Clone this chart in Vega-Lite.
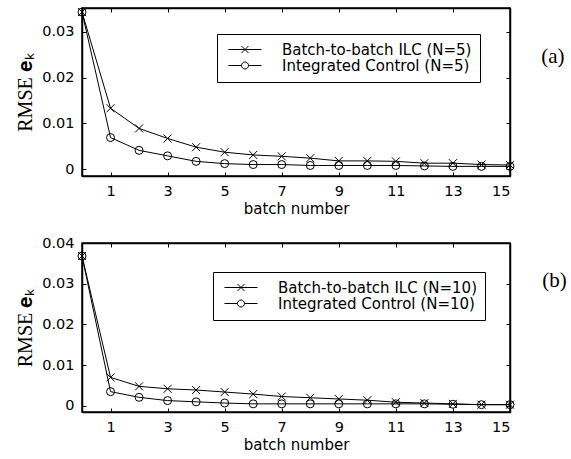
{
  "$schema": "https://vega.github.io/schema/vega-lite/v6.json",
  "background": "white",
  "padding": {"left": 14, "top": 5, "right": 0, "bottom": 5},
  "spacing": 16,
  "config": {
    "view": {"stroke": "black", "strokeWidth": 1.5},
    "axis": {"domainColor": "black", "domainWidth": 1.5, "tickColor": "black", "tickSize": -4, "tickWidth": 1, "labelColor": "black", "labelFont": "DejaVu Sans", "labelFontSize": 14.5, "grid": false, "titleColor": "black", "titleFontWeight": "normal", "labelPadding": 12},
    "legend": {"orient": "none", "strokeColor": "black", "fillColor": "white", "padding": 8, "symbolSize": 64, "symbolStrokeWidth": 1, "symbolStrokeColor": "black", "symbolFillColor": "transparent", "symbolOpacity": 1, "labelFont": "DejaVu Sans", "labelFontSize": 15, "labelColor": "black", "labelOffset": 42, "labelLimit": 400, "rowPadding": 0, "title": null}
  },
  "datasets": {
    "a": [
      {"batch": 0, "series": "Batch-to-batch ILC (N=5)", "rmse": 0.0343},
      {"batch": 1, "series": "Batch-to-batch ILC (N=5)", "rmse": 0.0133},
      {"batch": 2, "series": "Batch-to-batch ILC (N=5)", "rmse": 0.0089},
      {"batch": 3, "series": "Batch-to-batch ILC (N=5)", "rmse": 0.0067},
      {"batch": 4, "series": "Batch-to-batch ILC (N=5)", "rmse": 0.0048},
      {"batch": 5, "series": "Batch-to-batch ILC (N=5)", "rmse": 0.0037},
      {"batch": 6, "series": "Batch-to-batch ILC (N=5)", "rmse": 0.0031},
      {"batch": 7, "series": "Batch-to-batch ILC (N=5)", "rmse": 0.0028},
      {"batch": 8, "series": "Batch-to-batch ILC (N=5)", "rmse": 0.0024},
      {"batch": 9, "series": "Batch-to-batch ILC (N=5)", "rmse": 0.0018},
      {"batch": 10, "series": "Batch-to-batch ILC (N=5)", "rmse": 0.0018},
      {"batch": 11, "series": "Batch-to-batch ILC (N=5)", "rmse": 0.0017},
      {"batch": 12, "series": "Batch-to-batch ILC (N=5)", "rmse": 0.0013},
      {"batch": 13, "series": "Batch-to-batch ILC (N=5)", "rmse": 0.0013},
      {"batch": 14, "series": "Batch-to-batch ILC (N=5)", "rmse": 0.0010},
      {"batch": 15, "series": "Batch-to-batch ILC (N=5)", "rmse": 0.0009},
      {"batch": 0, "series": "Integrated Control (N=5)", "rmse": 0.0343},
      {"batch": 1, "series": "Integrated Control (N=5)", "rmse": 0.0069},
      {"batch": 2, "series": "Integrated Control (N=5)", "rmse": 0.0041},
      {"batch": 3, "series": "Integrated Control (N=5)", "rmse": 0.0029},
      {"batch": 4, "series": "Integrated Control (N=5)", "rmse": 0.0017},
      {"batch": 5, "series": "Integrated Control (N=5)", "rmse": 0.0012},
      {"batch": 6, "series": "Integrated Control (N=5)", "rmse": 0.0010},
      {"batch": 7, "series": "Integrated Control (N=5)", "rmse": 0.0010},
      {"batch": 8, "series": "Integrated Control (N=5)", "rmse": 0.0008},
      {"batch": 9, "series": "Integrated Control (N=5)", "rmse": 0.0008},
      {"batch": 10, "series": "Integrated Control (N=5)", "rmse": 0.0008},
      {"batch": 11, "series": "Integrated Control (N=5)", "rmse": 0.0008},
      {"batch": 12, "series": "Integrated Control (N=5)", "rmse": 0.0007},
      {"batch": 13, "series": "Integrated Control (N=5)", "rmse": 0.0006},
      {"batch": 14, "series": "Integrated Control (N=5)", "rmse": 0.0006},
      {"batch": 15, "series": "Integrated Control (N=5)", "rmse": 0.0006}
    ],
    "b": [
      {"batch": 0, "series": "Batch-to-batch ILC (N=10)", "rmse": 0.0368},
      {"batch": 1, "series": "Batch-to-batch ILC (N=10)", "rmse": 0.0070},
      {"batch": 2, "series": "Batch-to-batch ILC (N=10)", "rmse": 0.0048},
      {"batch": 3, "series": "Batch-to-batch ILC (N=10)", "rmse": 0.0042},
      {"batch": 4, "series": "Batch-to-batch ILC (N=10)", "rmse": 0.0039},
      {"batch": 5, "series": "Batch-to-batch ILC (N=10)", "rmse": 0.0034},
      {"batch": 6, "series": "Batch-to-batch ILC (N=10)", "rmse": 0.0029},
      {"batch": 7, "series": "Batch-to-batch ILC (N=10)", "rmse": 0.0023},
      {"batch": 8, "series": "Batch-to-batch ILC (N=10)", "rmse": 0.0020},
      {"batch": 9, "series": "Batch-to-batch ILC (N=10)", "rmse": 0.0017},
      {"batch": 10, "series": "Batch-to-batch ILC (N=10)", "rmse": 0.0014},
      {"batch": 11, "series": "Batch-to-batch ILC (N=10)", "rmse": 0.0009},
      {"batch": 12, "series": "Batch-to-batch ILC (N=10)", "rmse": 0.0007},
      {"batch": 13, "series": "Batch-to-batch ILC (N=10)", "rmse": 0.0005},
      {"batch": 14, "series": "Batch-to-batch ILC (N=10)", "rmse": 0.0003},
      {"batch": 15, "series": "Batch-to-batch ILC (N=10)", "rmse": 0.0003},
      {"batch": 0, "series": "Integrated Control (N=10)", "rmse": 0.0368},
      {"batch": 1, "series": "Integrated Control (N=10)", "rmse": 0.0035},
      {"batch": 2, "series": "Integrated Control (N=10)", "rmse": 0.0021},
      {"batch": 3, "series": "Integrated Control (N=10)", "rmse": 0.0013},
      {"batch": 4, "series": "Integrated Control (N=10)", "rmse": 0.0010},
      {"batch": 5, "series": "Integrated Control (N=10)", "rmse": 0.0007},
      {"batch": 6, "series": "Integrated Control (N=10)", "rmse": 0.0005},
      {"batch": 7, "series": "Integrated Control (N=10)", "rmse": 0.0005},
      {"batch": 8, "series": "Integrated Control (N=10)", "rmse": 0.0005},
      {"batch": 9, "series": "Integrated Control (N=10)", "rmse": 0.0005},
      {"batch": 10, "series": "Integrated Control (N=10)", "rmse": 0.0005},
      {"batch": 11, "series": "Integrated Control (N=10)", "rmse": 0.0005},
      {"batch": 12, "series": "Integrated Control (N=10)", "rmse": 0.0005},
      {"batch": 13, "series": "Integrated Control (N=10)", "rmse": 0.0004},
      {"batch": 14, "series": "Integrated Control (N=10)", "rmse": 0.0003},
      {"batch": 15, "series": "Integrated Control (N=10)", "rmse": 0.0003}
    ]
  },
  "vconcat": [
    {
      "width": 428,
      "height": 168,
      "data": {"name": "a"},
      "title": {"text": "(a)", "orient": "right", "anchor": "start", "angle": 0, "font": "Liberation Serif", "fontSize": 21, "fontWeight": "normal", "color": "black", "offset": 2, "dx": -14, "dy": 40},
      "layer": [
        {
          "mark": {"type": "line", "color": "black", "strokeWidth": 1, "clip": false},
          "encoding": {
            "x": {"field": "batch", "type": "quantitative", "scale": {"domain": [0, 15], "nice": false, "zero": false}, "axis": {"values": [1, 3, 5, 7, 9, 11, 13, 15], "title": "batch number", "titleFont": "DejaVu Sans", "titleFontSize": 15, "titlePadding": 4}},
            "y": {"field": "rmse", "type": "quantitative", "scale": {"domain": [-0.0015, 0.0352], "nice": false, "zero": false}, "axis": {"values": [0, 0.01, 0.02, 0.03], "format": ".2~f", "title": "RMSE 𝐞ₖ", "titleFont": "Liberation Serif", "titleFontSize": 20, "titlePadding": 6}},
            "detail": {"field": "series"}
          }
        },
        {
          "mark": {"type": "point", "filled": false, "color": "black", "strokeWidth": 1, "size": 64, "opacity": 1, "clip": false},
          "encoding": {
            "x": {"field": "batch", "type": "quantitative", "axis": {"values": [1, 3, 5, 7, 9, 11, 13, 15], "labels": false, "title": null}},
            "y": {"field": "rmse", "type": "quantitative", "axis": {"values": [0, 0.01, 0.02, 0.03], "labels": false, "title": null}},
            "shape": {"field": "series", "type": "nominal", "scale": {"domain": ["Batch-to-batch ILC (N=5)", "Integrated Control (N=5)"], "range": ["M-1,-1L1,1M-1,1L1,-1", "circle"]}, "legend": null}
          }
        },
        {
          "mark": {"type": "point", "filled": false, "color": "black", "opacity": 0, "clip": false},
          "encoding": {
            "x": {"field": "batch", "type": "quantitative", "axis": null},
            "y": {"field": "rmse", "type": "quantitative", "axis": null},
            "shape": {"field": "series", "type": "nominal", "scale": {"domain": ["Batch-to-batch ILC (N=5)", "Integrated Control (N=5)"], "range": ["M-1,0H7.25M2.25,-0.875L4,0.875M2.25,0.875L4,-0.875", "M-1,0H2.25M4,0H7.25M4,0A0.875,0.875,0,1,1,2.25,0A0.875,0.875,0,1,1,4,0"]}, "legend": {"legendX": 135, "legendY": 26, "symbolOpacity": 1}}
          }
        }
      ],
      "resolve": {"axis": {"x": "independent", "y": "independent"}, "scale": {"shape": "independent"}, "legend": {"shape": "independent"}}
    },
    {
      "width": 428,
      "height": 169,
      "data": {"name": "b"},
      "title": {"text": "(b)", "orient": "right", "anchor": "start", "angle": 0, "font": "Liberation Serif", "fontSize": 21, "fontWeight": "normal", "color": "black", "offset": 2, "dx": -14, "dy": 35},
      "layer": [
        {
          "mark": {"type": "line", "color": "black", "strokeWidth": 1, "clip": false},
          "encoding": {
            "x": {"field": "batch", "type": "quantitative", "scale": {"domain": [0, 15], "nice": false, "zero": false}, "axis": {"values": [1, 3, 5, 7, 9, 11, 13, 15], "title": "batch number", "titleFont": "DejaVu Sans", "titleFontSize": 15, "titlePadding": 4}},
            "y": {"field": "rmse", "type": "quantitative", "scale": {"domain": [-0.0015, 0.04], "nice": false, "zero": false}, "axis": {"values": [0, 0.01, 0.02, 0.03, 0.04], "format": ".2~f", "title": "RMSE 𝐞ₖ", "titleFont": "Liberation Serif", "titleFontSize": 20, "titlePadding": 6}},
            "detail": {"field": "series"}
          }
        },
        {
          "mark": {"type": "point", "filled": false, "color": "black", "strokeWidth": 1, "size": 64, "opacity": 1, "clip": false},
          "encoding": {
            "x": {"field": "batch", "type": "quantitative", "axis": {"values": [1, 3, 5, 7, 9, 11, 13, 15], "labels": false, "title": null}},
            "y": {"field": "rmse", "type": "quantitative", "axis": {"values": [0, 0.01, 0.02, 0.03, 0.04], "labels": false, "title": null}},
            "shape": {"field": "series", "type": "nominal", "scale": {"domain": ["Batch-to-batch ILC (N=10)", "Integrated Control (N=10)"], "range": ["M-1,-1L1,1M-1,1L1,-1", "circle"]}, "legend": null}
          }
        },
        {
          "mark": {"type": "point", "filled": false, "color": "black", "opacity": 0, "clip": false},
          "encoding": {
            "x": {"field": "batch", "type": "quantitative", "axis": null},
            "y": {"field": "rmse", "type": "quantitative", "axis": null},
            "shape": {"field": "series", "type": "nominal", "scale": {"domain": ["Batch-to-batch ILC (N=10)", "Integrated Control (N=10)"], "range": ["M-1,0H7.25M2.25,-0.875L4,0.875M2.25,0.875L4,-0.875", "M-1,0H2.25M4,0H7.25M4,0A0.875,0.875,0,1,1,2.25,0A0.875,0.875,0,1,1,4,0"]}, "legend": {"legendX": 131, "legendY": 29, "symbolOpacity": 1}}
          }
        }
      ],
      "resolve": {"axis": {"x": "independent", "y": "independent"}, "scale": {"shape": "independent"}, "legend": {"shape": "independent"}}
    }
  ],
  "resolve": {"scale": {"shape": "independent"}, "legend": {"shape": "independent"}}
}
